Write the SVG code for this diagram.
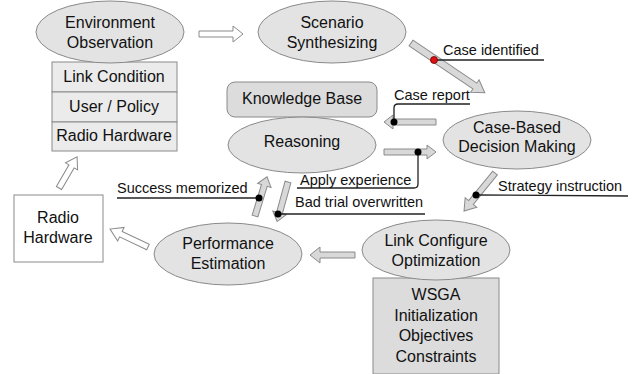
<svg xmlns="http://www.w3.org/2000/svg" width="638" height="374" viewBox="0 0 638 374">
<style>
text{font-family:"Liberation Sans",Arial,sans-serif;fill:#111;}
.n{font-size:16px;text-anchor:middle;}
.l{font-size:14.5px;}
.el{fill:#e3e3e3;stroke:#8a8a8a;stroke-width:1;}
.kb{fill:#dcdcdc;stroke:#8a8a8a;stroke-width:1;}
.tb{fill:#ebebeb;stroke:#8a8a8a;stroke-width:1;}
.wb{fill:#ffffff;stroke:#8a8a8a;stroke-width:1;}
.ga{fill:#d8d8d8;stroke:#8a8a8a;stroke-width:1;}
.ha{fill:#ffffff;stroke:#8a8a8a;stroke-width:1;}
.ld{fill:none;stroke:#222;stroke-width:1.3;}
.dot{fill:#000;}
</style>
<g id="connectors">
<polygon class="ha" transform="translate(199,34)" points="0,-3 34,-3 34,-8 44,0 34,8 34,3 0,3"/>
<polygon class="ga" transform="translate(411,43) rotate(34)" points="0,-3.5 77,-3.5 77,-7.5 89,0 77,7.5 77,3.5 0,3.5"/>
<polygon class="ga" transform="translate(436,122) rotate(180)" points="0,-3 43,-3 43,-7 52,0 43,7 43,3 0,3"/>
<polygon class="ga" transform="translate(384,152)" points="0,-3 43,-3 43,-7 52,0 43,7 43,3 0,3"/>
<polygon class="ga" transform="translate(255,216) rotate(-73)" points="0,-3 32,-3 32,-7 41,0 32,7 32,3 0,3"/>
<polygon class="ga" transform="translate(288,182) rotate(105.4)" points="0,-3 32,-3 32,-7 41,0 32,7 32,3 0,3"/>
<polygon class="ga" transform="translate(495,173) rotate(129.2)" points="0,-3 38,-3 38,-7.5 49,0 38,7.5 38,3 0,3"/>
<polygon class="ga" transform="translate(355,255) rotate(180)" points="0,-3 35,-3 35,-8 45,0 35,8 35,3 0,3"/>
<polygon class="ha" transform="translate(148,247) rotate(205.3)" points="0,-3 30,-3 30,-7.5 42,0 30,7.5 30,3 0,3"/>
<polygon class="ha" transform="translate(59,188) rotate(-59.9)" points="0,-3 25,-3 25,-7 36,0 25,7 25,3 0,3"/>
<path class="ld" d="M434,60 H544"/>
<path class="ld" d="M394,122 V108 Q394,104 398,104 H470"/>
<path class="ld" d="M418,152 V184 Q418,188 414,188 H297"/>
<path class="ld" d="M259,198 H117"/>
<path class="ld" d="M278,214 H425"/>
<path class="ld" d="M476,195 L628,196"/>
<circle cx="434" cy="60" r="3.5" fill="#e01010" stroke="#600" stroke-width="0.8"/>
<circle class="dot" cx="394" cy="122" r="3.5"/>
<circle class="dot" cx="418" cy="152" r="3.5"/>
<circle class="dot" cx="259" cy="198" r="3.5"/>
<circle class="dot" cx="278" cy="214" r="3.5"/>
<circle class="dot" cx="476" cy="195" r="3.5"/>
<text class="l" x="443" y="55">Case identified</text>
<text class="l" x="394" y="100">Case report</text>
<text class="l" x="300" y="185">Apply experience</text>
<text class="l" x="295" y="207">Bad trial overwritten</text>
<text class="l" x="117" y="193">Success memorized</text>
<text class="l" x="498" y="191">Strategy instruction</text>
</g>
<g id="env-table">
<rect class="tb" x="52" y="62" width="125" height="30"/>
<rect class="tb" x="52" y="92" width="125" height="30"/>
<rect class="tb" x="52" y="122" width="125" height="29"/>
<text class="n" x="114" y="82">Link Condition</text>
<text class="n" x="114" y="112">User / Policy</text>
<text class="n" x="114" y="141">Radio Hardware</text>
</g>
<g id="env">
<ellipse class="el" cx="110" cy="32" rx="74" ry="31"/>
<text class="n" x="110" y="28">Environment</text>
<text class="n" x="110" y="48">Observation</text>
</g>
<g id="scenario">
<ellipse class="el" cx="332" cy="32" rx="74" ry="31"/>
<text class="n" x="332" y="28">Scenario</text>
<text class="n" x="332" y="48">Synthesizing</text>
</g>
<g id="knowledge">
<rect class="kb" x="227" y="82" width="150" height="35" rx="8"/>
<text class="n" x="302" y="104">Knowledge Base</text>
</g>
<g id="reasoning">
<ellipse class="el" cx="302" cy="145" rx="74" ry="28"/>
<text class="n" x="302" y="147">Reasoning</text>
</g>
<g id="casebased">
<ellipse class="el" cx="517" cy="140" rx="74" ry="29"/>
<text class="n" x="517" y="133">Case-Based</text>
<text class="n" x="517" y="152">Decision Making</text>
</g>
<g id="wsga">
<rect class="kb" x="373" y="278" width="126" height="96"/>
<text class="n" x="436" y="300">WSGA</text>
<text class="n" x="436" y="321">Initialization</text>
<text class="n" x="436" y="341">Objectives</text>
<text class="n" x="436" y="362">Constraints</text>
</g>
<g id="linkconfig">
<ellipse class="el" cx="436" cy="250" rx="74" ry="30"/>
<text class="n" x="436" y="246">Link Configure</text>
<text class="n" x="436" y="266">Optimization</text>
</g>
<g id="performance">
<ellipse class="el" cx="228" cy="254" rx="74" ry="31"/>
<text class="n" x="228" y="249">Performance</text>
<text class="n" x="228" y="269">Estimation</text>
</g>
<g id="radio">
<rect class="wb" x="14" y="195" width="89" height="67"/>
<text class="n" x="58" y="223">Radio</text>
<text class="n" x="58" y="243">Hardware</text>
</g>
</svg>
